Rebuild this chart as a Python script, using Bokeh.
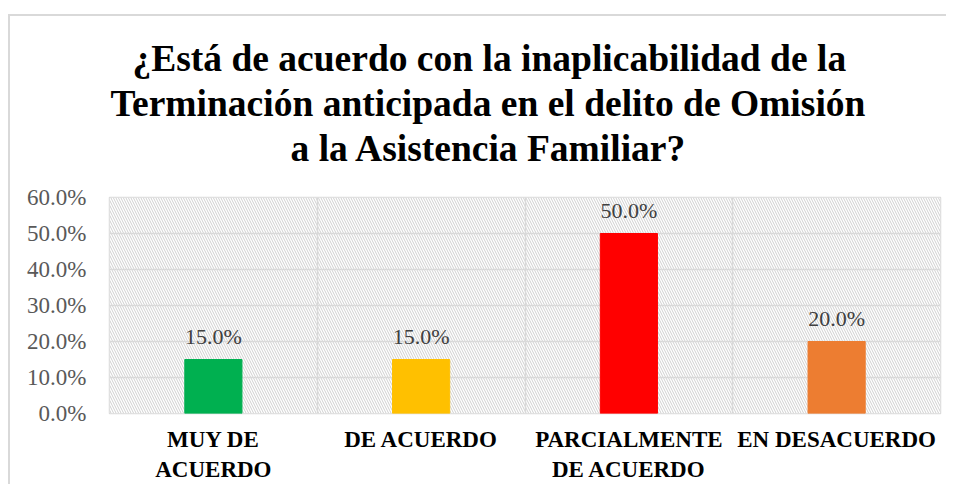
from bokeh.plotting import figure
from bokeh.models import (ColumnDataSource, FixedTicker, NumeralTickFormatter, Range1d,
                          Title, BoxAnnotation, Grid, LabelSet)
from bokeh.core.properties import value
from bokeh.embed import file_html
from bokeh.resources import INLINE

categories = ["MUY DE\nACUERDO", "DE ACUERDO", "PARCIALMENTE\nDE ACUERDO", "EN DESACUERDO"]
values = [0.15, 0.15, 0.50, 0.20]
colors = ["#00B050", "#FFC000", "#FF0000", "#ED7D31"]
labels = ["15.0%", "15.0%", "50.0%", "20.0%"]
title_lines = ["¿Está de acuerdo con la inaplicabilidad de la",
               "Terminación anticipada en el delito de Omisión",
               "a la Asistencia Familiar?"]
title_offsets = [23, 1, 181]
y_ticks = [0.0, 0.1, 0.2, 0.3, 0.4, 0.5, 0.6]

xs = [i + 0.5 for i in range(len(categories))]
src = ColumnDataSource(dict(x=xs, top=values, color=colors, label=labels))

FONT = "Liberation Serif"
W, H = 946, 484

p = figure(width=W, height=H, output_backend="svg", toolbar_location=None,
           x_range=Range1d(0, len(categories)), y_range=Range1d(0, 0.6),
           min_border_left=109, min_border_right=6, min_border_bottom=69,
           min_border_top=197)
p.title.visible = False
p.border_fill_color = None
p.background_fill_color = "white"
p.styles = {"box-shadow": "inset 8px 14px 0 0 #ffffff, inset 10px 16px 0 0 #d9d9d9"}

# spacer between title block and frame, then title lines (last added is outermost)
p.add_layout(Title(text=" ", text_font_size="1px", standoff=25), "above")
for line, off in reversed(list(zip(title_lines, title_offsets))):
    p.add_layout(Title(text=line, align="left", offset=off, standoff=2,
                       text_font="'Liberation Serif'", text_font_size="37.5px",
                       text_font_style="bold", text_color="#000000"), "above")

# hatched background
bg = BoxAnnotation(fill_color="white", fill_alpha=1.0, line_color=None,
                   hatch_pattern="\\", hatch_color="#cfcfcf", hatch_scale=5,
                   hatch_weight=1, level="image")
p.add_layout(bg)

p.vbar(x="x", top="top", width=0.275, color="color", source=src)

p.add_layout(LabelSet(x="x", y="top", text="label", source=src, text_align="center",
                      text_baseline="alphabetic", y_offset=16, text_font=value(FONT),
                      text_font_size="22px", text_color="#404040"))

p.xgrid.visible = False
p.ygrid.visible = False
p.add_layout(Grid(dimension=0, ticker=FixedTicker(ticks=[0, 1, 2, 3, 4]),
                  grid_line_color="#d9d9d9", grid_line_width=1.5))
p.add_layout(Grid(dimension=1, ticker=FixedTicker(ticks=y_ticks),
                  grid_line_color="#d9d9d9", grid_line_width=1.5))

p.xaxis.ticker = FixedTicker(ticks=xs)
p.xaxis.major_label_overrides = {x: c for x, c in zip(xs, categories)}
p.xaxis.major_label_text_font = "serif"
p.xaxis.major_label_text_font_size = "23px"
p.xaxis.major_label_text_font_style = "bold"
p.xaxis.major_label_text_color = "#000000"
p.xaxis.major_label_standoff = 7
p.xaxis.axis_line_color = None
p.xaxis.major_tick_line_color = None
p.xaxis.minor_tick_line_color = None

p.yaxis.ticker = FixedTicker(ticks=y_ticks)
p.yaxis.formatter = NumeralTickFormatter(format="0.0%")
p.yaxis.major_label_text_font = FONT
p.yaxis.major_label_text_font_size = "23px"
p.yaxis.major_label_text_color = "#595959"
p.yaxis.major_label_standoff = 17
p.yaxis.axis_line_color = None
p.yaxis.major_tick_line_color = None
p.yaxis.minor_tick_line_color = None

p.outline_line_color = "#d9d9d9"
p.outline_line_width = 1.5

open("out.html", "w").write(file_html(p, INLINE))
